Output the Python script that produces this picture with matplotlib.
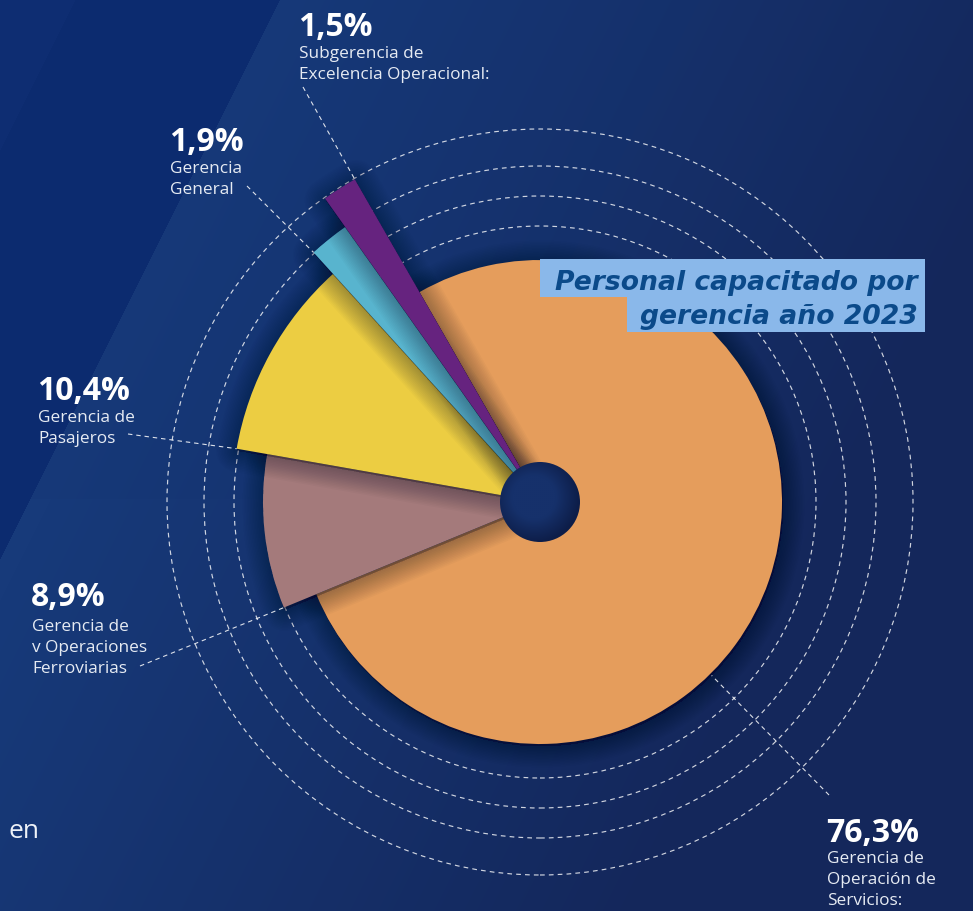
import numpy as np
import matplotlib
matplotlib.use("Agg")
import matplotlib.pyplot as plt
from matplotlib.patches import Wedge, Circle, Rectangle

# ---------------- data ----------------
categories = ["Gerencia de Operación de Servicios", "Subgerencia de Excelencia Operacional",
              "Gerencia General", "Gerencia de Pasajeros", "Gerencia de Operaciones Ferroviarias"]
values = [76.3, 1.5, 1.9, 10.4, 8.9]
pct_labels = ["76,3%", "1,5%", "1,9%", "10,4%", "8,9%"]
desc_labels = [["Gerencia de", "Operación de", "Servicios:"],
               ["Subgerencia de", "Excelencia Operacional:"],
               ["Gerencia", "General"],
               ["Gerencia de", "Pasajeros"],
               ["Gerencia de", "v Operaciones", "Ferroviarias"]]
colors = ["#e59d5c", "#66237f", "#58b4ce", "#eccd42", "#a47a7b"]
radii = [242, 372, 337, 308, 277]          # per-slice radius (px)
title = "Personal capacitado por\ngerencia año 2023"

W, H = 973, 912
fig = plt.figure(figsize=(W / 100, H / 100), dpi=100)
ax = fig.add_axes([0, 0, 1, 1])

def Y(yimg):
    return H - yimg

def hexrgb(h):
    h = h.lstrip("#")
    return np.array([int(h[i:i + 2], 16) for i in (0, 2, 4)]) / 255.0

# ---------------- background ----------------
xx, yy = np.meshgrid(np.arange(W), np.arange(H))
s = xx + 0.5 * yy
c_a = hexrgb("#173a7a")
c_b = hexrgb("#14275b")
t = np.clip((s - 300) / 800.0, 0, 1)[..., None]
bg = c_a * (1 - t) + c_b * t
band = ((s > 75) & (s < 280))[..., None]
bg = np.where(band, hexrgb("#07246a") * 0.65 + bg * 0.35, bg)
corner = (s <= 75)[..., None]
bg = np.where(corner, hexrgb("#0e2d72"), bg)
mid = ((s >= 280) & (s < 700) & (yy < 500))[..., None]
bg = np.where(mid, bg * 0.85 + hexrgb("#11306e") * 0.15, bg)
ax.imshow(bg, extent=[0, W, 0, H], origin="upper", zorder=0, interpolation="bilinear")

# ---------------- pie ----------------
cx, cy = 540, Y(503)
wedges, _ = ax.pie(values, colors=colors, startangle=202.4, counterclock=True,
                   center=(cx, cy), radius=1, frame=True)
ax.set_xlim(0, W)
ax.set_ylim(0, H)
ax.set_aspect("equal")
ax.axis("off")

# dashed concentric circles
for r in [276, 306, 336, 373]:
    ax.add_patch(Circle((cx, cy), r, fill=False, edgecolor="white", lw=0.85,
                        linestyle=(0, (4, 3.5)), alpha=0.8, zorder=1))

draw_order = [0, 4, 3, 2, 1]
z = 2
geom = {}
NS = 14
for i in draw_order:
    w = wedges[i]
    t1, t2 = w.theta1, w.theta2
    r = radii[i]
    geom[i] = (t1, t2, r)
    w.set_visible(False)
    # soft shadow
    for k in range(NS):
        ax.add_patch(Wedge((cx + 1, cy - 2), r, t1, t2, facecolor=(0.02, 0.04, 0.12, 0.022),
                           edgecolor=(0.02, 0.04, 0.12, 0.022), lw=(NS - k) * 2.2,
                           joinstyle="round", zorder=z))
    ax.add_patch(Wedge((cx, cy), r, t1, t2, facecolor=colors[i], edgecolor="none", zorder=z + 0.5))
    z += 1

# hole with radial shading
hr = 40
hole = Circle((cx, cy), hr, facecolor="none", edgecolor="none", zorder=z + 0.5)
ax.add_patch(hole)
gx, gy = np.meshgrid(np.linspace(-1, 1, 200), np.linspace(-1, 1, 200))
d = np.sqrt((gx + 0.15) ** 2 + (gy + 0.12) ** 2)   # image rows go downward
shade = np.clip((d - 0.55) / 0.6, 0, 1)[..., None]
base = hexrgb("#16316b")
dark = hexrgb("#0d1d48")
himg = base * (1 - shade) + dark * shade
im = ax.imshow(himg, extent=[cx - hr, cx + hr, cy - hr, cy + hr], origin="upper",
               zorder=z + 0.6, interpolation="bilinear")
im.set_clip_path(hole)
ax.set_xlim(0, W)
ax.set_ylim(0, H)
z += 1

# ---------------- labels ----------------
def pt(theta, r):
    a = np.deg2rad(theta)
    return cx + r * np.cos(a), cy + r * np.sin(a)

# (x, pct baseline, first desc baseline)
label_pos = {1: (299, 36, 58), 2: (170, 151, 173), 3: (38, 400, 422),
             4: (32, 606, 631), 0: (827, 842, 863)}
line_step = 21
leader_start = {1: (303, 88), 2: (247, 187), 3: (128, 435), 4: (140, 667), 0: (829, 796)}
leader_end = {1: pt(geom[1][0], geom[1][2]),
              2: pt(geom[2][1], geom[2][2]),
              3: pt(geom[3][1], geom[3][2]),
              4: pt(geom[4][1], geom[4][2]),
              0: pt(-45.3, geom[0][2] + 2)}

for i in range(len(values)):
    x0, yb, yd = label_pos[i]
    ax.text(x0 - 1, Y(yb), pct_labels[i], color="white", fontsize=23, fontweight="bold",
            family="Open Sans", ha="left", va="baseline", zorder=20)
    for j, line in enumerate(desc_labels[i]):
        ax.text(x0, Y(yd + j * line_step), line, color="#e6ebf3", fontsize=12.4,
                family="Open Sans", ha="left", va="baseline", zorder=20)
    sx, sy = leader_start[i]
    ex, ey = leader_end[i]
    ax.plot([sx, ex], [Y(sy), ey], color="white", lw=0.8, linestyle=(0, (4, 3.5)),
            alpha=0.85, zorder=z + 1)

# ---------------- title box ----------------
ax.add_patch(Rectangle((540, Y(298)), 385, 38, facecolor="#8ab8ea", edgecolor="none", zorder=30))
ax.add_patch(Rectangle((627, Y(333)), 298, 36, facecolor="#8ab8ea", edgecolor="none", zorder=30))
tl = title.split("\n")
ax.text(918, Y(290), tl[0], color="#0b4a8a", fontsize=19.2, fontweight="bold", style="italic",
        family="DejaVu Sans", ha="right", va="baseline", zorder=31)
ax.text(918, Y(324), tl[1], color="#0b4a8a", fontsize=19.2, fontweight="bold", style="italic",
        family="DejaVu Sans", ha="right", va="baseline", zorder=31)

ax.text(8, Y(838), "en", color="#eef2f8", fontsize=19, family="Open Sans", ha="left",
        va="baseline", zorder=20)

fig.savefig("out.png", dpi=100)
